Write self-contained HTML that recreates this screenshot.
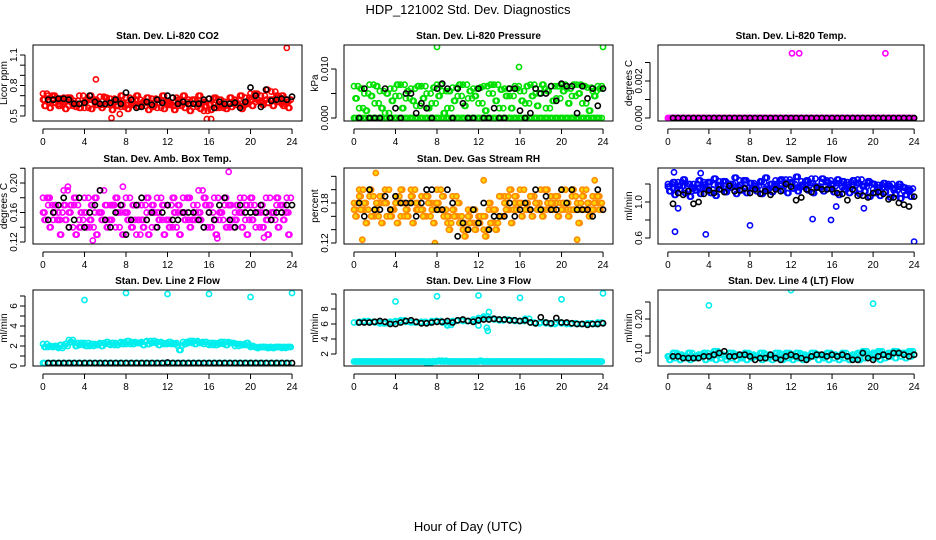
<!DOCTYPE html>
<html><head><meta charset="utf-8"><style>
body{margin:0;background:#fff;}
svg{display:block;font-family:"Liberation Sans",Arial,sans-serif;}
</style></head><body>
<svg id="chart" width="936" height="540" viewBox="0 0 936 540">
<rect width="936" height="540" fill="#fff"/>
<text x="468" y="14" font-size="13" text-anchor="middle">HDP_121002  Std. Dev. Diagnostics</text>
<text x="468" y="531" font-size="13" text-anchor="middle">Hour of Day (UTC)</text>
</svg>
<script>
const HOURS_A=[0,0.5,1,1.5,2,2.5,3,3.5,4,4.5,5,5.5,6,6.5,7,7.5,8,8.5,9,9.5,10,10.5,11,11.5,12,12.5,13,13.5,14,14.5,15,15.5,16,16.5,17,17.5,18,18.5,19,19.5,20,20.5,21,21.5,22,22.5,23,23.5];
const HOURS_B=[0.25,0.75,1.25,1.75,2.25,2.75,3.25,3.75,4.25,4.75,5.25,5.75,6.25,6.75,7.25,7.75,8.25,8.75,9.25,9.75,10.25,10.75,11.25,11.75,12.25,12.75,13.25,13.75,14.25,14.75,15.25,15.75,16.25,16.75,17.25,17.75,18.25,18.75,19.25,19.75,20.25,20.75,21.25,21.75,22.25,22.75,23.25,23.75];
const HOURS_C=[0.15,0.65,1.15,1.65,2.15,2.65,3.15,3.65,4.15,4.65,5.15,5.65,6.15,6.65,7.15,7.65,8.15,8.65,9.15,9.65,10.15,10.65,11.15,11.65,12.15,12.65,13.15,13.65,14.15,14.65,15.15,15.65,16.15,16.65,17.15,17.65,18.15,18.65,19.15,19.65,20.15,20.65,21.15,21.65,22.15,22.65,23.15,23.65];
const HOURS_D=[0.38,0.88,1.38,1.88,2.38,2.88,3.38,3.88,4.38,4.88,5.38,5.88,6.38,6.88,7.38,7.88,8.38,8.88,9.38,9.88,10.38,10.88,11.38,11.88,12.38,12.88,13.38,13.88,14.38,14.88,15.38,15.88,16.38,16.88,17.38,17.88,18.38,18.88,19.38,19.88,20.38,20.88,21.38,21.88,22.38,22.88,23.38,23.88];
const HOURS_K=[0.5,1,1.5,2,2.5,3,3.5,4,4.5,5,5.5,6,6.5,7,7.5,8,8.5,9,9.5,10,10.5,11,11.5,12,12.5,13,13.5,14,14.5,15,15.5,16,16.5,17,17.5,18,18.5,19,19.5,20,20.5,21,21.5,22,22.5,23,23.5,24];
const X_TICKS=[0,4,8,12,16,20,24];

const co2A=[0.72,0.70,0.66,0.62,0.68,0.60,0.65,0.70,0.58,0.66,0.63,0.69,0.61,0.67,0.64,0.59,0.68,0.62,0.66,0.60,0.63,0.67,0.58,0.65,0.62,0.68,0.60,0.64,0.66,0.59,0.63,0.55,0.67,0.61,0.58,0.64,0.62,0.66,0.60,0.68,0.72,0.64,0.70,0.66,0.74,0.68,0.62,0.66];
const co2B=[0.60,0.58,0.63,0.67,0.57,0.64,0.59,0.62,0.66,0.57,0.61,0.58,0.64,0.56,0.60,0.63,0.57,0.61,0.59,0.64,0.56,0.60,0.63,0.57,0.61,0.56,0.63,0.58,0.55,0.62,0.57,0.60,0.56,0.58,0.62,0.57,0.59,0.61,0.57,0.62,0.60,0.66,0.61,0.63,0.60,0.64,0.60,0.58];
const co2C=[0.66,0.64,0.70,0.60,0.64,0.68,0.62,0.58,0.64,0.70,0.66,0.61,0.68,0.62,0.66,0.70,0.61,0.66,0.70,0.62,0.68,0.59,0.66,0.70,0.64,0.60,0.66,0.70,0.62,0.66,0.70,0.64,0.61,0.68,0.66,0.60,0.68,0.64,0.70,0.62,0.66,0.72,0.64,0.76,0.66,0.70,0.70,0.64];
const co2K=[0.66,0.66,0.67,0.67,0.66,0.62,0.62,0.63,0.70,0.64,0.62,0.62,0.63,0.66,0.62,0.73,0.66,0.58,0.59,0.64,0.61,0.66,0.63,0.70,0.68,0.62,0.64,0.62,0.62,0.62,0.66,0.67,0.58,0.64,0.62,0.62,0.63,0.58,0.64,0.78,0.70,0.59,0.76,0.65,0.66,0.67,0.66,0.69];
const co2OutH=[5.1,23.5,6.6,15.8,16.2,7.4];
const co2OutV=[0.86,1.17,0.48,0.47,0.47,0.52];

const presA=[0.0065,0.002,0.005,0.0068,0.003,0.0055,0.001,0.006,0.0045,0.0068,0.004,0.006,0.0025,0.0065,0.005,0.003,0.0068,0.0055,0.002,0.0062,0.0045,0.0068,0.004,0.006,0.003,0.0065,0.005,0.0068,0.002,0.006,0.0045,0.0065,0.0055,0.003,0.0068,0.005,0.006,0.002,0.0065,0.004,0.0068,0.006,0.0045,0.0068,0.003,0.0062,0.0055,0.0065];
const presB=[0.004,0.006,0.0015,0.0045,0.0065,0.002,0.005,0.0035,0.0068,0.002,0.0055,0.0035,0.0065,0.004,0.002,0.0062,0.0045,0.001,0.0055,0.0035,0.0068,0.0025,0.0055,0.0045,0.0062,0.0015,0.0068,0.0035,0.0058,0.0045,0.002,0.006,0.0035,0.0065,0.0045,0.0025,0.0068,0.0055,0.0035,0.0065,0.0055,0.003,0.0068,0.005,0.0065,0.0015,0.0045,0.006];
const presC=[0,0,0,0,0,0,0,0,0,0,0,0,0,0,0,0,0,0,0,0,0,0,0,0,0,0,0,0,0,0,0,0,0,0,0,0,0,0,0,0,0,0,0,0,0,0,0,0];
const presK=[0,0.006,0,0,0,0.006,0,0.002,0,0.005,0.005,0.001,0.003,0.002,0,0.006,0.007,0.006,0,0.006,0.003,0,0,0.006,0,0,0.002,0,0,0.006,0.006,0.0015,0,0.001,0.006,0.005,0.005,0.0065,0.0035,0.007,0.0065,0.0065,0.001,0.0065,0.004,0.006,0.0025,0.006];
const presOutH=[8,24,15.9];
const presOutV=[0.0145,0.0145,0.0104];

const tempA=[0,0,0,0,0,0,0,0,0,0,0,0,0,0,0,0,0,0,0,0,0,0,0,0,0,0,0,0,0,0,0,0,0,0,0,0,0,0,0,0,0,0,0,0,0,0,0,0];
const tempK=[0,0,0,0,0,0,0,0,0,0,0,0,0,0,0,0,0,0,0,0,0,0,0,0,0,0,0,0,0,0,0,0,0,0,0,0,0,0,0,0,0,0,0,0,0,0,0,0];
const tempOutH=[12.1,12.8,21.2];
const tempOutV=[0.0035,0.0035,0.0035];

const ambA=[0.18,0.17,0.15,0.16,0.19,0.14,0.17,0.15,0.18,0.14,0.16,0.19,0.15,0.17,0.14,0.16,0.18,0.15,0.13,0.17,0.16,0.14,0.18,0.15,0.17,0.14,0.16,0.18,0.15,0.17,0.19,0.14,0.16,0.18,0.15,0.17,0.14,0.16,0.18,0.15,0.17,0.14,0.16,0.18,0.15,0.17,0.16,0.18];
const ambB=[0.15,0.14,0.17,0.13,0.15,0.17,0.13,0.16,0.14,0.17,0.13,0.15,0.14,0.17,0.16,0.13,0.15,0.17,0.15,0.14,0.13,0.16,0.15,0.13,0.14,0.16,0.13,0.15,0.14,0.16,0.15,0.17,0.14,0.13,0.16,0.14,0.15,0.17,0.14,0.13,0.15,0.16,0.14,0.13,0.16,0.14,0.15,0.13];
const ambC=[0.16,0.18,0.16,0.15,0.17,0.16,0.18,0.14,0.16,0.15,0.18,0.16,0.17,0.15,0.18,0.17,0.16,0.14,0.17,0.15,0.18,0.17,0.16,0.17,0.15,0.18,0.17,0.16,0.18,0.15,0.16,0.18,0.17,0.15,0.16,0.18,0.17,0.15,0.16,0.17,0.18,0.16,0.17,0.15,0.16,0.18,0.17,0.16];
const ambK=[0.15,0.16,0.17,0.18,0.14,0.15,0.18,0.14,0.16,0.17,0.19,0.15,0.14,0.16,0.17,0.13,0.15,0.17,0.18,0.15,0.16,0.14,0.16,0.17,0.15,0.15,0.16,0.16,0.16,0.15,0.14,0.16,0.15,0.17,0.18,0.15,0.14,0.17,0.16,0.16,0.16,0.17,0.16,0.15,0.16,0.16,0.17,0.17];
const ambOutH=[17.9,4.8,16.8,21.3,2.4,7.7];
const ambOutV=[0.215,0.122,0.125,0.126,0.195,0.195];

const rhA=[0.18,0.20,0.17,0.19,0.16,0.18,0.20,0.17,0.19,0.16,0.18,0.20,0.17,0.19,0.16,0.18,0.20,0.17,0.15,0.19,0.16,0.14,0.17,0.15,0.16,0.14,0.17,0.15,0.16,0.19,0.17,0.18,0.20,0.17,0.19,0.18,0.20,0.17,0.19,0.18,0.20,0.17,0.19,0.18,0.20,0.17,0.19,0.18];
const rhB=[0.16,0.17,0.15,0.16,0.18,0.15,0.16,0.17,0.15,0.18,0.16,0.15,0.17,0.16,0.18,0.15,0.17,0.16,0.14,0.16,0.15,0.13,0.15,0.14,0.16,0.13,0.15,0.14,0.16,0.17,0.15,0.17,0.16,0.18,0.16,0.17,0.16,0.18,0.17,0.16,0.18,0.16,0.17,0.15,0.17,0.16,0.18,0.17];
const rhC=[0.17,0.19,0.18,0.20,0.17,0.19,0.18,0.16,0.18,0.20,0.17,0.19,0.18,0.17,0.19,0.17,0.18,0.19,0.16,0.17,0.18,0.15,0.16,0.17,0.15,0.16,0.18,0.17,0.19,0.18,0.20,0.19,0.18,0.17,0.19,0.18,0.17,0.20,0.18,0.19,0.17,0.18,0.20,0.17,0.19,0.18,0.17,0.19];
const rhK=[0.18,0.16,0.20,0.17,0.17,0.19,0.17,0.19,0.18,0.18,0.18,0.16,0.18,0.20,0.20,0.17,0.17,0.20,0.18,0.13,0.15,0.14,0.17,0.15,0.18,0.14,0.16,0.16,0.16,0.18,0.16,0.17,0.18,0.17,0.20,0.17,0.19,0.17,0.17,0.20,0.18,0.20,0.17,0.17,0.17,0.16,0.20,0.17];
const rhOutH=[2.1,12.5,23.2,0.8,7.8,21.5];
const rhOutV=[0.225,0.214,0.214,0.125,0.12,0.125];

const sfA=[1.20,1.15,1.22,1.18,1.12,1.20,1.16,1.22,1.14,1.19,1.23,1.15,1.20,1.17,1.24,1.16,1.21,1.18,1.22,1.15,1.20,1.24,1.18,1.25,1.20,1.16,1.23,1.19,1.26,1.17,1.22,1.24,1.18,1.21,1.16,1.22,1.19,1.25,1.17,1.21,1.14,1.19,1.16,1.20,1.13,1.17,1.12,1.15];
const sfB=[1.12,1.08,1.14,1.10,1.06,1.13,1.09,1.15,1.10,1.07,1.14,1.11,1.16,1.09,1.13,1.10,1.15,1.12,1.09,1.14,1.11,1.16,1.13,1.10,1.15,1.12,1.17,1.13,1.10,1.16,1.12,1.15,1.11,1.08,1.14,1.10,1.13,1.09,1.12,1.06,1.10,1.07,1.11,1.05,1.09,1.04,1.08,1.06];
const sfC=[1.17,1.22,1.18,1.25,1.20,1.16,1.24,1.19,1.22,1.26,1.18,1.23,1.20,1.27,1.19,1.24,1.21,1.16,1.23,1.27,1.20,1.18,1.25,1.21,1.22,1.28,1.19,1.24,1.21,1.17,1.26,1.22,1.20,1.25,1.23,1.19,1.24,1.21,1.18,1.23,1.20,1.16,1.21,1.18,1.15,1.20,1.16,1.13];
const sfK=[0.98,1.10,1.08,1.12,0.98,1.00,1.09,1.13,1.10,1.14,1.11,1.18,1.12,1.13,1.15,1.10,1.14,1.09,1.12,1.08,1.14,1.12,1.20,1.17,1.02,1.05,1.14,1.11,1.16,1.14,1.14,1.14,1.10,1.09,1.02,1.14,1.07,1.07,1.05,1.10,1.11,1.09,1.03,1.05,0.99,0.97,0.95,1.06];
const sfOutH=[0.6,3.2,0.7,3.7,8.0,14.1,15.9,24,1.0,16.4,19.1];
const sfOutV=[1.33,1.32,0.67,0.64,0.74,0.81,0.80,0.56,0.93,0.95,0.93];

const l2A=[2.2,1.9,1.9,1.8,2.0,2.6,2.3,2.1,2.3,2.0,2.2,2.3,2.2,2.1,2.3,2.4,2.2,2.4,2.3,2.4,2.5,2.3,2.4,2.3,2.2,2.3,2.0,2.4,2.3,2.5,2.4,2.2,2.1,2.3,2.2,2.4,2.3,2.0,2.2,2.1,1.9,1.9,1.9,1.9,1.9,1.9,1.8,1.9];
const l2B=[1.9,2.0,2.0,2.1,2.2,2.4,2.0,2.3,2.0,2.2,2.1,2.0,2.4,2.3,2.1,2.2,2.5,2.2,2.3,2.1,2.2,2.5,2.1,2.2,2.4,2.2,1.6,2.2,2.5,2.2,2.3,2.4,2.3,2.1,2.4,2.1,2.3,2.2,2.1,2.3,2.0,1.8,1.9,1.8,1.8,1.9,1.9,1.9];
const l2C=[0.3,0.3,0.3,0.3,0.3,0.3,0.3,0.3,0.3,0.3,0.3,0.3,0.3,0.3,0.3,0.3,0.3,0.3,0.3,0.3,0.3,0.3,0.3,0.3,0.3,0.3,0.3,0.3,0.3,0.3,0.3,0.3,0.3,0.3,0.3,0.3,0.3,0.3,0.3,0.3,0.3,0.3,0.3,0.3,0.3,0.3,0.3,0.3];
const l2K=[0.3,0.3,0.3,0.3,0.3,0.3,0.3,0.3,0.3,0.3,0.3,0.3,0.3,0.3,0.3,0.3,0.3,0.3,0.3,0.3,0.3,0.3,0.3,0.35,0.3,0.3,0.3,0.3,0.3,0.3,0.3,0.3,0.3,0.3,0.3,0.3,0.3,0.3,0.3,0.3,0.3,0.3,0.3,0.3,0.3,0.3,0.3,0.3];
const l2OutH=[4,8,12,16,20,24];
const l2OutV=[6.6,7.3,7.2,7.2,6.9,7.3];

const l3A=[6.2,6.3,6.4,6.3,6.2,6.1,6.1,6.3,6.4,6.5,6.3,6.2,6.2,6.3,6.2,6.4,6.4,6.2,5.9,6.4,6.5,6.4,6.4,6.6,6.8,7.0,6.7,6.6,6.5,6.6,6.5,6.4,6.4,6.7,6.2,6.1,6.2,6.1,6.0,6.2,6.1,6.0,6.1,6.0,6.0,6.1,6.0,6.2];
const l3B=[1.0,1.0,1.0,1.0,1.0,1.0,1.0,1.0,1.0,1.0,1.0,1.0,1.0,1.0,0.8,1.0,1.0,1.1,1.0,1.0,1.0,1.0,1.0,1.0,1.0,1.0,1.0,1.0,1.0,1.0,1.0,1.0,1.0,1.0,1.0,1.0,1.0,1.0,1.0,1.0,1.0,1.0,1.0,1.0,1.0,1.0,1.0,1.0];
const l3C=[1.0,1.0,1.0,1.0,1.0,1.0,1.0,1.0,1.0,1.0,1.0,1.0,1.0,1.0,1.0,1.0,1.1,1.0,1.0,1.0,1.0,1.0,1.0,1.0,1.1,1.0,1.0,1.0,1.0,1.0,1.0,1.0,1.0,1.0,1.0,1.0,1.0,1.0,1.0,1.0,1.0,1.0,1.0,1.0,1.0,1.0,1.0,1.0];
const l3K=[6.2,6.2,6.2,6.3,6.4,6.3,6.0,6.0,6.2,6.4,6.5,6.3,6.1,6.1,6.2,6.3,6.3,6.4,6.2,6.5,6.6,6.4,6.3,6.5,6.6,6.6,6.7,6.6,6.6,6.5,6.5,6.4,6.5,6.2,6.1,6.9,6.2,6.1,6.8,6.2,6.2,6.1,6.0,6.0,5.9,6.0,6.0,6.1];
const l3OutH=[4,8,12,16,20,24,12.9,12.8,12,9,13];
const l3OutV=[9.0,9.7,9.8,9.5,9.3,10.1,5.1,5.5,5.8,5.8,7.6];

const l4A=[0.09,0.10,0.095,0.09,0.1,0.09,0.095,0.1,0.09,0.105,0.095,0.09,0.1,0.095,0.09,0.1,0.095,0.09,0.1,0.095,0.09,0.1,0.095,0.1,0.09,0.1,0.095,0.09,0.1,0.095,0.09,0.1,0.095,0.09,0.1,0.09,0.095,0.1,0.105,0.095,0.1,0.105,0.095,0.1,0.105,0.1,0.1,0.105];
const l4B=[0.08,0.085,0.08,0.085,0.08,0.085,0.09,0.08,0.085,0.08,0.085,0.08,0.085,0.08,0.085,0.08,0.085,0.09,0.08,0.085,0.08,0.085,0.08,0.085,0.08,0.085,0.08,0.085,0.09,0.08,0.085,0.08,0.085,0.08,0.085,0.08,0.085,0.08,0.085,0.09,0.085,0.08,0.085,0.09,0.085,0.09,0.085,0.09];
const l4K=[0.09,0.09,0.085,0.085,0.085,0.085,0.09,0.09,0.095,0.1,0.105,0.09,0.09,0.095,0.095,0.09,0.08,0.085,0.085,0.095,0.085,0.08,0.09,0.095,0.09,0.085,0.08,0.09,0.095,0.095,0.09,0.095,0.09,0.095,0.09,0.08,0.08,0.1,0.085,0.08,0.09,0.095,0.09,0.1,0.1,0.095,0.09,0.095];
const l4OutH=[4,12,20];
const l4OutV=[0.24,0.285,0.245];

const NS='http://www.w3.org/2000/svg';
const svg=document.getElementById('chart');
function mk(tag,attrs,parent){const e=document.createElementNS(NS,tag);for(const k in attrs)e.setAttribute(k,attrs[k]);(parent||svg).appendChild(e);return e;}

const COLS=[{l:33,r:302},{l:344,r:613},{l:658,r:924}];
const ROWS=[{t:45,b:121},{t:168,b:244},{t:290,b:366}];
const ALT=new Map([[HOURS_A,HOURS_D],[HOURS_B,HOURS_C],[HOURS_C,HOURS_A],[HOURS_D,HOURS_B]]);

function panel(o){
  const c=COLS[o.col], rw=ROWS[o.row];
  const g=mk('g',{});
  
  
  const xs=h=>c.l+(h+0.96)/25.92*(c.r-c.l);
  const ys=v=>o.y0px+(v-o.y0)*(o.y1px-o.y0px)/(o.y1-o.y0);
  const t=mk('text',{x:(c.l+c.r)/2,y:rw.t-6,'font-size':10,'font-weight':'bold','text-anchor':'middle'},g);
  t.textContent=o.title;
  
  
  const clip='clip'+o.name;
  const cp=mk('clipPath',{id:clip},g);
  mk('rect',{x:c.l,y:rw.t,width:c.r-c.l,height:rw.b-rw.t},cp);
  const pts=mk('g',{'clip-path':'url(#'+clip+')'},g);
  function draw(hours,vals,stroke,fill,nm){
    for(let i=0;i<vals.length;i++){
      if(vals[i]==null)continue;
      const ci=mk('circle',{cx:xs(hours[i]).toFixed(1),cy:ys(vals[i]).toFixed(1),r:2.6,fill:fill||'none',stroke:stroke,'stroke-width':1.6},pts);
      
      
    }
  }
  o.series.forEach(s=>{draw(s.h,s.v,o.color,o.fill,'data-point');draw(ALT.get(s.h),s.v,o.color,o.fill,'data-point');});
  if(o.outH) draw(o.outH,o.outV,o.color,o.fill,'outlier-point');
  if(o.black) draw(HOURS_K,o.black,'#000',null,'reference-point');
  const box=mk('rect',{x:c.l,y:rw.t,width:c.r-c.l,height:rw.b-rw.t,fill:'none',stroke:'#000','stroke-width':1},g);
  
  
  const xa=X_TICKS;
  mk('line',{x1:xs(xa[0]),x2:xs(xa[xa.length-1]),y1:rw.b+8,y2:rw.b+8,stroke:'#000'},g);
  xa.forEach(h=>{
    mk('line',{x1:xs(h),x2:xs(h),y1:rw.b+8,y2:rw.b+13,stroke:'#000'},g);
    const tl=mk('text',{x:xs(h),y:rw.b+24,'font-size':10,'text-anchor':'middle'},g);
    tl.textContent=String(h);
    
    
  });
  const ax=c.l-8;
  mk('line',{x1:ax,x2:ax,y1:ys(o.ticks[0]),y2:ys(o.ticks[o.ticks.length-1]),stroke:'#000'},g);
  o.ticks.forEach(v=>mk('line',{x1:ax-5,x2:ax,y1:ys(v),y2:ys(v),stroke:'#000'},g));
  o.labels.forEach((lab,i)=>{
    const y=ys(o.labelVals[i]);
    const tl=mk('text',{x:ax-8,y:y,'font-size':10,'text-anchor':'middle',transform:`rotate(-90 ${ax-8} ${y})`},g);
    tl.textContent=lab;
    
    
  });
  const yt=mk('text',{x:c.l-26,y:(rw.t+rw.b)/2,'font-size':10,'text-anchor':'middle',transform:`rotate(-90 ${c.l-26} ${(rw.t+rw.b)/2})`},g);
  yt.textContent=o.ytitle;
  
  
}

panel({name:'panel-co2',col:0,row:0,title:'Stan. Dev. Li-820 CO2',ytitle:'Licor ppm',color:'#ff0000',y0:0.5,y0px:116,y1:1.1,y1px:55,
  ticks:[0.5,0.6,0.7,0.8,0.9,1.0,1.1],labels:['0.5','0.8','1.1'],labelVals:[0.5,0.8,1.1],
  series:[{h:HOURS_A,v:co2A},{h:HOURS_B,v:co2B},{h:HOURS_C,v:co2C}],outH:co2OutH,outV:co2OutV,black:co2K});
panel({name:'panel-pressure',col:1,row:0,title:'Stan. Dev. Li-820 Pressure',ytitle:'kPa',color:'#00e000',y0:0,y0px:118,y1:0.01,y1px:69,
  ticks:[0,0.005,0.01],labels:['0.000','0.010'],labelVals:[0,0.01],
  series:[{h:HOURS_A,v:presA},{h:HOURS_B,v:presB},{h:HOURS_C,v:presC},{h:HOURS_A,v:presC}],outH:presOutH,outV:presOutV,black:presK});
panel({name:'panel-temp',col:2,row:0,title:'Stan. Dev. Li-820 Temp.',ytitle:'degrees C',color:'#ff00ff',y0:0,y0px:118,y1:0.002,y1px:81,
  ticks:[0,0.001,0.002,0.003],labels:['0.000','0.002'],labelVals:[0,0.002],
  series:[{h:HOURS_A,v:tempA},{h:HOURS_B,v:tempA}],outH:tempOutH,outV:tempOutV,black:tempK});
panel({name:'panel-amb-temp',col:0,row:1,title:'Stan. Dev. Amb. Box Temp.',ytitle:'degrees C',color:'#ff00ff',y0:0.12,y0px:242,y1:0.20,y1px:183,
  ticks:[0.12,0.14,0.16,0.18,0.20,0.22],labels:['0.12','0.16','0.20'],labelVals:[0.12,0.16,0.20],
  series:[{h:HOURS_A,v:ambA},{h:HOURS_B,v:ambB},{h:HOURS_C,v:ambC}],outH:ambOutH,outV:ambOutV,black:ambK});
panel({name:'panel-rh',col:1,row:1,title:'Stan. Dev. Gas Stream RH',ytitle:'percent',color:'#ff8c00',fill:'#ffd700',y0:0.12,y0px:243,y1:0.18,y1px:203,
  ticks:[0.12,0.14,0.16,0.18,0.20,0.22],labels:['0.12','0.18'],labelVals:[0.12,0.18],
  series:[{h:HOURS_A,v:rhA},{h:HOURS_B,v:rhB},{h:HOURS_C,v:rhC}],outH:rhOutH,outV:rhOutV,black:rhK});
panel({name:'panel-sample-flow',col:2,row:1,title:'Stan. Dev. Sample Flow',ytitle:'ml/min',color:'#0000ff',y0:0.6,y0px:238,y1:1.0,y1px:202,
  ticks:[0.6,0.8,1.0,1.2],labels:['0.6','1.0'],labelVals:[0.6,1.0],
  series:[{h:HOURS_A,v:sfA},{h:HOURS_B,v:sfB},{h:HOURS_C,v:sfC}],outH:sfOutH,outV:sfOutV,black:sfK});
panel({name:'panel-line2',col:0,row:2,title:'Stan. Dev. Line 2 Flow',ytitle:'ml/min',color:'#00eeee',y0:0,y0px:366,y1:6,y1px:306,
  ticks:[0,1,2,3,4,5,6,7],labels:['0','2','4','6'],labelVals:[0,2,4,6],
  series:[{h:HOURS_A,v:l2A},{h:HOURS_B,v:l2B},{h:HOURS_C,v:l2C}],outH:l2OutH,outV:l2OutV,black:l2K});
panel({name:'panel-line3',col:1,row:2,title:'Stan. Dev. Line 3 Flow',ytitle:'ml/min',color:'#00eeee',y0:2,y0px:354,y1:8,y1px:309,
  ticks:[2,4,6,8,10],labels:['2','4','6','8'],labelVals:[2,4,6,8],
  series:[{h:HOURS_A,v:l3A},{h:HOURS_A,v:l3B},{h:HOURS_B,v:l3C}],outH:l3OutH,outV:l3OutV,black:l3K});
panel({name:'panel-line4',col:2,row:2,title:'Stan. Dev. Line 4 (LT) Flow',ytitle:'ml/min',color:'#00eeee',y0:0.10,y0px:353,y1:0.20,y1px:319,
  ticks:[0.10,0.15,0.20,0.25],labels:['0.10','0.20'],labelVals:[0.10,0.20],
  series:[{h:HOURS_A,v:l4A},{h:HOURS_B,v:l4B},{h:HOURS_C,v:l4A}],outH:l4OutH,outV:l4OutV,black:l4K});
</script>
</body></html>
